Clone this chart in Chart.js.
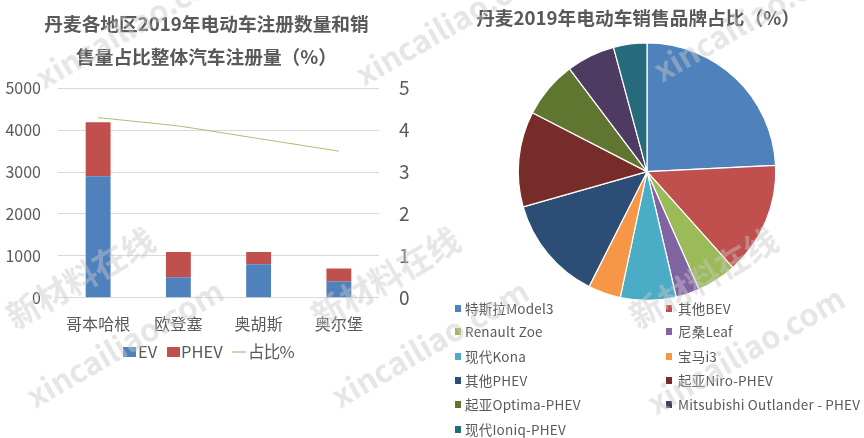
<!DOCTYPE html>
<html><head><meta charset="utf-8">
<script src="https://cdn.jsdelivr.net/npm/chart.js@4"></script>
<style>
html,body{margin:0;padding:0;background:#fff;width:864px;height:438px;overflow:hidden}
body{position:relative;font-family:"Noto Sans CJK SC","Noto Sans",sans-serif}
#c1{position:absolute;left:0;top:0}
#c2{position:absolute;left:430px;top:0}
#legend div{position:absolute;font-size:13.5px;color:#595959;white-space:nowrap;line-height:18px;letter-spacing:.22px}
#legend i{position:absolute;width:6px;height:7px}
#legend1 div{position:absolute;font-size:16.5px;color:#595959;white-space:nowrap;line-height:20px}
#legend1 i{position:absolute}
.wm{position:absolute;white-space:nowrap;font-weight:700;color:rgba(200,200,200,.45);transform:translate(-50%,-50%) rotate(-30deg);pointer-events:none;line-height:1}
</style></head><body>
<canvas id="c1" width="413" height="438"></canvas>
<canvas id="c2" width="407" height="438"></canvas>
<div id="legend1"></div>
<div id="legend"></div>
<div id="marks"></div>
<script>
const cities = ['哥本哈根','欧登塞','奥胡斯','奥尔堡'];
const evValues = [2900,490,800,390];
const phevValues = [1290,600,290,310];
const sharePct = [4.3,4.1,3.8,3.5];
const leftTitle = ['丹麦各地区2019年电动车注册数量和销','售量占比整体汽车注册量（%）'];
const rightTitle = '丹麦2019年电动车销售品牌占比（%）';
const brands = ['特斯拉Model3','其他BEV','Renault Zoe','尼桑Leaf','现代Kona','宝马i3','其他PHEV','起亚Niro-PHEV','起亚Optima-PHEV','Mitsubishi Outlander - PHEV','现代Ioniq-PHEV'];
const brandShares = [24.3,14.2,5.0,3.0,7.0,4.1,13.2,12.0,7.2,6.1,4.2];
const brandColors = ['#4f81bd','#c0504d','#9bbb59','#8064a2','#4bacc6','#f79646','#2c4d75','#772c2a','#5f7530','#4d3b62','#276a7c'];
const legendCols = [[455,465],[666,678]];
const legendRows = [308,331,356,380,404,429];
const wmLatin = [[124,342],[429,342],[745,349],[133,23],[453,20],[751,16]];
const wmCjk = [[80,277],[385,277],[703,277]];
const grey = '#595959';
const font = '"Noto Sans CJK SC","Noto Sans",sans-serif';
Chart.defaults.font.family = font;
Chart.defaults.animation = false;

const chart1 = new Chart(document.getElementById('c1'),{
  type:'bar',
  data:{labels:cities,datasets:[
    {type:'bar',label:'EV',data:evValues,backgroundColor:'#4f81bd',stack:'s',yAxisID:'y',barPercentage:.31,categoryPercentage:1,order:2},
    {type:'bar',label:'PHEV',data:phevValues,backgroundColor:'#c0504d',stack:'s',yAxisID:'y',barPercentage:.31,categoryPercentage:1,order:2},
    {type:'line',label:'占比%',data:sharePct,borderColor:'#a5c06f',borderWidth:1,pointRadius:0,tension:.1,yAxisID:'y1',order:1}
  ]},
  options:{responsive:false,animation:false,
    layout:{padding:{top:0,bottom:95,left:0,right:0}},
    plugins:{
      title:{display:true,text:leftTitle,color:grey,font:{size:18.7,weight:'700',lineHeight:1.78},padding:{top:7,bottom:14.7}},
      legend:{display:false},
      tooltip:{enabled:false}
    },
    scales:{
      x:{stacked:true,grid:{display:false},border:{display:false},ticks:{color:grey,font:{size:16},padding:9,maxRotation:0}},
      y:{stacked:true,min:0,max:5000,position:'left',ticks:{stepSize:1000,color:grey,font:{size:16},padding:17,callback:v=>String(v)},
        grid:{color:'#d9d9d9',drawTicks:false},border:{display:false},afterFit(s){s.width=58;}},
      y1:{min:0,max:5,position:'right',ticks:{stepSize:1,color:grey,font:{size:19},padding:20},
        grid:{display:false,drawTicks:false},border:{display:false},afterFit(s){s.width=34;}}
    }
  }
});

new Chart(document.getElementById('c2'),{
  type:'pie',
  data:{labels:brands,datasets:[{data:brandShares,backgroundColor:brandColors,borderColor:'#fff',borderWidth:1.2}]},
  options:{responsive:false,animation:false,
    layout:{padding:{left:27,bottom:137}},
    plugins:{
      title:{display:true,text:rightTitle,color:grey,font:{size:18.7,weight:'700',lineHeight:1.3},padding:{top:6,bottom:12}},
      legend:{display:false},tooltip:{enabled:false}
    }
  },
  plugins:[{id:'titleShift',afterLayout(ch){ch.titleBlock.left-=9;ch.titleBlock.right-=9;}}]
});

// left legend, from the dataset labels
const leg1=document.getElementById('legend1');
const leg1Pos=[[123,138],[167,181],[232,248]];
chart1.data.datasets.forEach((d,i)=>{
  const p=leg1Pos[i], isLine=d.type==='line';
  const m=document.createElement('i');
  m.style.cssText=isLine?`left:${p[0]}px;top:351px;width:14px;height:2px;background:#c9d9a8`
    :`left:${p[0]}px;top:347px;width:13px;height:10px;background:${d.backgroundColor}`;
  leg1.appendChild(m);
  const t=document.createElement('div');t.textContent=d.label;t.style.left=p[1]+'px';t.style.top='341px';
  if(isLine)t.style.letterSpacing='-.8px';
  leg1.appendChild(t);
});

const leg=document.getElementById('legend');
brands.forEach((b,i)=>{
  const c=legendCols[i%2], y=legendRows[Math.floor(i/2)];
  const m=document.createElement('i');m.style.cssText=`left:${c[0]}px;top:${y-3}px;background:${brandColors[i]}`;leg.appendChild(m);
  const t=document.createElement('div');t.textContent=b;t.style.left=c[1]+'px';t.style.top=(y-9)+'px';leg.appendChild(t);
});
const marks=document.getElementById('marks');
function wm(text,size,p){const s=document.createElement('span');s.className='wm';s.textContent=text;s.style.cssText=`left:${p[0]}px;top:${p[1]}px;font-size:${size}px`;marks.appendChild(s);}
wmLatin.forEach(p=>wm('xincailiao.com',31,p));
wmCjk.forEach(p=>wm('新材料在线',33,p));
</script>
</body></html>
